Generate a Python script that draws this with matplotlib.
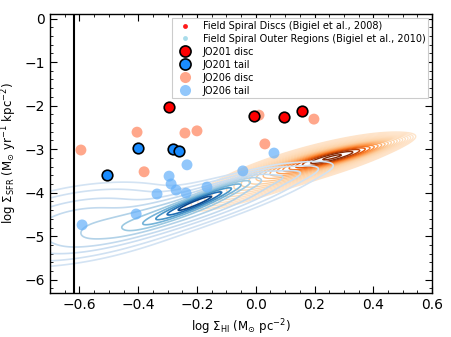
import numpy as np
import matplotlib
matplotlib.use("Agg")
import matplotlib.pyplot as plt
from matplotlib.lines import Line2D
from matplotlib.ticker import MultipleLocator

# ---- data ----
jo201_disc_x = [-0.295, -0.006, 0.096, 0.157]
jo201_disc_y = [-2.03, -2.24, -2.26, -2.12]

jo201_tail_x = [-0.506, -0.401, -0.282, -0.261]
jo201_tail_y = [-3.59, -2.97, -3.00, -3.04]

jo206_disc_x = [-0.595, -0.404, -0.241, -0.200, -0.380, 0.011, 0.198, 0.031]
jo206_disc_y = [-3.02, -2.61, -2.63, -2.58, -3.52, -2.22, -2.31, -2.88]

jo206_tail_x = [-0.234, -0.295, -0.288, -0.271, -0.336, -0.237, -0.166, -0.591, -0.407, -0.044, 0.062]
jo206_tail_y = [-3.36, -3.62, -3.80, -3.94, -4.03, -4.01, -3.87, -4.74, -4.49, -3.50, -3.09]

# density model of the field-galaxy distributions (gaussian components)
# centre x, centre y, sigma x, sigma y, correlation, weight
outer_comp_mx = [-0.20, -0.25, -0.60, 0.00]
outer_comp_my = [-4.22, -4.40, -4.70, -3.75]
outer_comp_sx = [0.09, 0.20, 0.18, 0.12]
outer_comp_sy = [0.26, 0.45, 0.45, 0.20]
outer_comp_rho = [0.95, 0.88, 0.40, 0.85]
outer_comp_w = [1.0, 0.35, 0.18, 0.08]

disc_comp_mx = [0.27, 0.20, 0.00]
disc_comp_my = [-3.17, -3.30, -3.80]
disc_comp_sx = [0.09, 0.14, 0.16]
disc_comp_sy = [0.17, 0.30, 0.42]
disc_comp_rho = [0.88, 0.82, 0.85]
disc_comp_w = [1.0, 0.35, 0.08]

vline_x = -0.62


def density(X, Y, mx, my, sx, sy, rho, w):
    Z = np.zeros_like(X)
    for a, b, c, d, r, ww in zip(mx, my, sx, sy, rho, w):
        u = (X - a) / c
        v = (Y - b) / d
        q = (u * u - 2 * r * u * v + v * v) / (1 - r * r)
        Z += ww * np.exp(-0.5 * q)
    return Z / Z.max()


fig = plt.figure(figsize=(4.51, 3.37), dpi=100)
ax = fig.add_axes([0.111, 0.131, 0.847, 0.827])

gx = np.linspace(-0.7, 0.6, 400)
gy = np.linspace(-6.3, 0.1, 400)
X, Y = np.meshgrid(gx, gy)

Zb = density(X, Y, outer_comp_mx, outer_comp_my, outer_comp_sx, outer_comp_sy, outer_comp_rho, outer_comp_w)
Zo = density(X, Y, disc_comp_mx, disc_comp_my, disc_comp_sx, disc_comp_sy, disc_comp_rho, disc_comp_w)

blev = [0.015, 0.03, 0.06, 0.10, 0.16, 0.24, 0.35, 0.5, 0.68, 0.86]
olev = list(np.geomspace(0.02, 0.95, 20))

ax.contour(X, Y, Zo, levels=olev, cmap='Oranges', vmin=-0.1, vmax=0.8, linewidths=1.0)
ax.contour(X, Y, Zb, levels=blev, cmap='Blues', vmin=-0.2, vmax=0.95, linewidths=1.2)

ax.axvline(vline_x, color='black', lw=1.5)

ax.scatter(jo206_disc_x, jo206_disc_y, s=62, color='#ff8a65', alpha=0.75, edgecolors='none', zorder=3)
ax.scatter(jo206_tail_x, jo206_tail_y, s=62, color='#64b0fa', alpha=0.7, edgecolors='none', zorder=3)
ax.scatter(jo201_disc_x, jo201_disc_y, s=58, color='#ff0000', edgecolors='black', linewidths=1.2, zorder=4)
ax.scatter(jo201_tail_x, jo201_tail_y, s=58, color='#1a8cff', edgecolors='black', linewidths=1.2, zorder=4)

handles = [
    Line2D([], [], ls='none', marker='o', ms=3.5, color='#ff1a1a', mec='none'),
    Line2D([], [], ls='none', marker='o', ms=3.5, color='#a8dcea', mec='none'),
    Line2D([], [], ls='none', marker='o', ms=8, color='#ff0000', mec='black', mew=1.2),
    Line2D([], [], ls='none', marker='o', ms=8, color='#1a8cff', mec='black', mew=1.2),
    Line2D([], [], ls='none', marker='o', ms=8, color='#ff8a65', alpha=0.75, mec='none'),
    Line2D([], [], ls='none', marker='o', ms=8, color='#64b0fa', alpha=0.7, mec='none'),
]
labels = ['Field Spiral Discs (Bigiel et al., 2008)',
          'Field Spiral Outer Regions (Bigiel et al., 2010)',
          'JO201 disc', 'JO201 tail', 'JO206 disc', 'JO206 tail']
leg = ax.legend(handles, labels, loc='upper right', fontsize=7, frameon=True,
                fancybox=False, edgecolor='#cccccc', framealpha=1,
                labelspacing=0.3, handletextpad=0.8, borderaxespad=0.4,
                borderpad=0.3)
leg.get_frame().set_linewidth(0.8)

ax.set_xlim(-0.7, 0.6)
ax.set_ylim(-6.3, 0.1)
ax.xaxis.set_major_locator(MultipleLocator(0.2))
ax.xaxis.set_minor_locator(MultipleLocator(0.05))
ax.yaxis.set_major_locator(MultipleLocator(1))
ax.yaxis.set_minor_locator(MultipleLocator(0.2))
ax.tick_params(which='both', direction='in', top=True, right=True, labelsize=10)
ax.tick_params(which='major', length=5)
ax.tick_params(which='minor', length=2.5)
for s in ax.spines.values():
    s.set_linewidth(1.0)

ax.set_xlabel(r'log $\Sigma_{\rm HI}$ (M$_{\odot}$ pc$^{-2}$)', fontsize=8.5)
ax.set_ylabel(r'log $\Sigma_{\rm SFR}$ (M$_{\odot}$ yr$^{-1}$ kpc$^{-2}$)', fontsize=8.5)

fig.savefig('out.png', dpi=100)
